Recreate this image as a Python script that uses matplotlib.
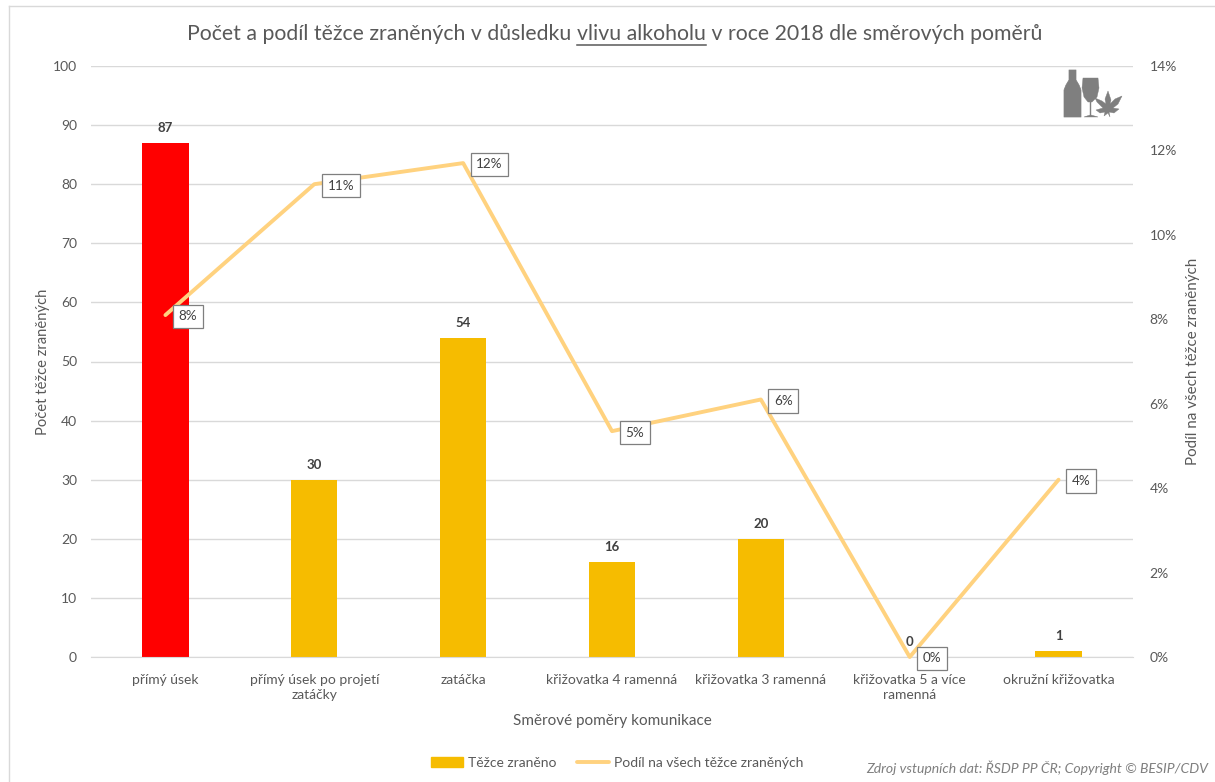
import matplotlib
matplotlib.use("Agg")
import matplotlib.pyplot as plt
from matplotlib.patches import Polygon
from matplotlib.ticker import PercentFormatter

categories = ["přímý úsek", "přímý úsek po projetí\nzatáčky", "zatáčka", "křižovatka 4 ramenná",
              "křižovatka 3 ramenná", "křižovatka 5 a více\nramenná", "okružní křižovatka"]
injured = [87, 30, 54, 16, 20, 0, 1]
share = [8.1, 11.2, 11.7, 5.35, 6.1, 0.0, 4.2]
share_labels = ["8%", "11%", "12%", "5%", "6%", "0%", "4%"]
bar_colors = ["#FF0000", "#F6BC00", "#F6BC00", "#F6BC00", "#F6BC00", "#F6BC00", "#F6BC00"]
left_ticks = list(range(0, 101, 10))
right_ticks = list(range(0, 15, 2))

W, H = 1215, 782
TXT = "#595959"
plt.rcParams["font.family"] = ["Lato", "DejaVu Sans"]
fig = plt.figure(figsize=(W / 100, H / 100), dpi=100)
fig.patch.set_facecolor("white")

# chart frame
fig.add_artist(plt.Line2D([9 / W, 9 / W], [0, 1 - 6 / H], color="#D9D9D9", lw=1))
fig.add_artist(plt.Line2D([9 / W, 1], [1 - 6 / H, 1 - 6 / H], color="#D9D9D9", lw=1))

ax = fig.add_axes([91 / W, 1 - 657 / H, (1133 - 91) / W, (657 - 66) / H])
ax.set_xlim(-0.5, 6.5)
ax.set_ylim(0, 100)
ax.set_axisbelow(True)
ax.yaxis.grid(True, color="#D9D9D9", lw=1)
ax.xaxis.grid(False)
for s in ax.spines.values():
    s.set_visible(False)
ax.spines["bottom"].set_visible(True)
ax.spines["bottom"].set_color("#D9D9D9")

xs = list(range(len(categories)))
bars = ax.bar(xs, injured, width=0.31, color=bar_colors, label="Těžce zraněno", zorder=2)
ax.set_xticks(xs, categories, fontsize=10, color=TXT, linespacing=1.35)
ax.set_yticks(left_ticks)
ax.tick_params(axis="x", length=0, pad=12)
ax.tick_params(axis="y", length=0, pad=10, labelsize=10, labelcolor=TXT)
ax.set_ylabel("Počet těžce zraněných", fontsize=10.6, color=TXT)
ax.yaxis.set_label_coords((50 - 91) / (1133 - 91), 0.5)
ax.set_xlabel("Směrové poměry komunikace", fontsize=11, color=TXT)
ax.xaxis.set_label_coords(0.5, (657 - 721) / (657 - 66), transform=ax.transAxes)
ax.xaxis.label.set_verticalalignment("center")

for x, v in zip(xs, injured):
    ax.annotate(str(v), (x, v), xytext=(0, 6.5), textcoords="offset points", ha="center", va="bottom",
                fontsize=9.5, fontweight="bold", color="#404040", zorder=6)

ax2 = ax.twinx()
ax2.set_ylim(0, 14)
ax2.set_yticks(right_ticks)
ax2.yaxis.set_major_formatter(PercentFormatter(decimals=0))
ax2.tick_params(axis="y", length=0, pad=12, labelsize=10, labelcolor=TXT)
for s in ax2.spines.values():
    s.set_visible(False)
ax2.set_ylabel("Podíl na všech těžce zraněných", fontsize=10.9, color=TXT)
ax2.yaxis.set_label_coords((1186 - 91) / (1133 - 91), 0.5)
line, = ax2.plot(xs, share, color="#FFD27F", lw=2.8, solid_capstyle="round",
                 label="Podíl na všech těžce zraněných", zorder=3, clip_on=False)

for x, v, t in zip(xs, share, share_labels):
    ax2.annotate(t, (x, v), xytext=(9.5, -1), textcoords="offset points", ha="left", va="center",
                 fontsize=9.7, color="#404040", zorder=7, annotation_clip=False,
                 bbox=dict(boxstyle="square,pad=0.42", fc="white", ec="#7F7F7F", lw=0.9))

# title with underlined part
parts = ["Počet a podíl těžce zraněných v důsledku ", "vlivu alkoholu", " v roce 2018 dle směrových poměrů"]
fig.canvas.draw()
rend = fig.canvas.get_renderer()
cur = 187
for i, p in enumerate(parts):
    t = fig.text(cur / W, 1 - 40 / H, p, fontsize=15.27, color=TXT, ha="left", va="baseline")
    adv = rend.get_text_width_height_descent(p.replace(" ", "\u00a0"), t.get_fontproperties(), False)[0]
    if i == 1:
        fig.add_artist(plt.Line2D([cur / W, (cur + adv) / W], [1 - 45 / H] * 2, color=TXT, lw=1.1))
    cur += adv

# legend
leg = fig.legend(handles=[bars, line], labels=["Těžce zraněno", "Podíl na všech těžce zraněných"],
                 loc="center", bbox_to_anchor=(617 / W, 1 - 763 / H), ncol=2, frameon=False, fontsize=10,
                 labelcolor=TXT, columnspacing=1.5, handlelength=2.3, handletextpad=0.35, borderpad=0)
leg.legend_handles[0].set_color("#F6BC00")

fig.text(1208 / W, 1 - 768 / H, "Zdroj vstupních dat: ŘSDP PP ČR; Copyright © BESIP/CDV", fontsize=10.1,
         style="italic", color="#7F7F7F", ha="right", va="center")

# bottle, glass and leaf icon
G = "#7F7F7F"
def P(pts):
    return [(x / W, 1 - y / H) for x, y in pts]
bottle = [(1069, 70), (1076, 70), (1076, 80), (1079, 85), (1081, 90), (1081, 117), (1064, 117), (1064, 90), (1066, 85), (1069, 80)]
fig.add_artist(Polygon(P(bottle), closed=True, fc=G, ec=G, lw=0.5, joinstyle="round"))
glass = [(1083, 78), (1098, 78), (1099, 88), (1097, 97), (1092, 102), (1091, 102), (1091, 115), (1098, 117), (1084, 117),
         (1090, 115), (1090, 102), (1088, 102), (1084, 97), (1082, 88)]
fig.add_artist(Polygon(P(glass), closed=True, fc=G, ec=G, lw=0.3))
leaf = [(1108, 91), (1111, 100), (1110, 104), (1115, 99), (1122, 96), (1118, 104), (1113, 108), (1119, 109), (1114, 113),
        (1109, 112), (1110, 117), (1108, 113), (1104, 116), (1105, 112), (1100, 113), (1096, 110), (1103, 108), (1097, 102),
        (1095, 98), (1102, 101), (1106, 104), (1105, 99)]
fig.add_artist(Polygon(P(leaf), closed=True, fc=G, ec=G, lw=0.3))

fig.savefig("out.png", dpi=100)
